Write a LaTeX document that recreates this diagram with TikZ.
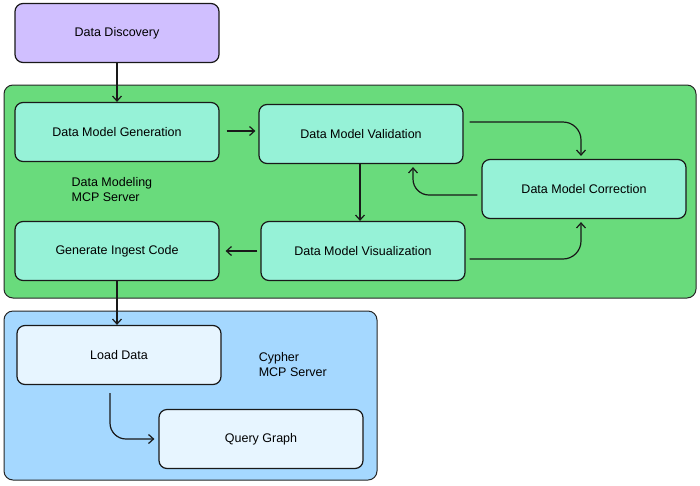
\documentclass[tikz,border=0pt]{standalone}
\usepackage{fontspec}
\setmainfont{Liberation Sans}
\usetikzlibrary{positioning,arrows.meta}
\definecolor{discfill}{HTML}{D0BFFF}
\definecolor{modelfill}{HTML}{69DB7C}
\definecolor{stepfill}{HTML}{96F2D7}
\definecolor{cypherfill}{HTML}{A5D8FF}
\definecolor{queryfill}{HTML}{E7F5FF}
\tikzset{
  area/.style={draw=black!85, line width=1pt, rounded corners=9pt, inner sep=0pt},
  stepbox/.style={draw=black!90, line width=1.2pt, rounded corners=8pt, fill=stepfill,
    minimum width=204pt, minimum height=59pt, inner sep=0pt, font=\fontsize{12.5}{15}\selectfont},
  note/.style={align=left, inner sep=0pt, font=\fontsize{12.5}{15}\selectfont},
  arr/.style={draw=black!90, line width=1.2pt, -{Straight Barb[length=5pt,width=9pt]}},
}

\begin{document}
\begin{tikzpicture}[x=1pt, y=-1pt]
  \useasboundingbox (0,0) rectangle (700,485);
  \node[area, fill=modelfill, minimum width=692pt, minimum height=213pt] (modeling) at (350,191.5) {};
  \node[area, fill=cypherfill, minimum width=373pt, minimum height=169pt] (cypher) at (190.5,395.5) {};
  \node[stepbox, fill=discfill] (disc) at (117,33) {Data Discovery};
  \node[stepbox] (gen) at (117,132) {Data Model Generation};
  \node[stepbox] (val) at (361,134) {Data Model Validation};
  \node[stepbox] (corr) at (584,189) {Data Model Correction};
  \node[stepbox] (ingest) at (117,251) {Generate Ingest Code};
  \node[stepbox] (vis) at (363,251) {Data Model Visualization};
  \node[stepbox, fill=queryfill] (load) at (119,355) {Load Data};
  \node[stepbox, fill=queryfill] (query) at (261,439) {Query Graph};
  \node[note, below right=15pt and 57pt of gen.south west] (modelnote) {Data Modeling\\MCP Server};
  \node[note, right=37pt of load.north east, yshift=-27pt, anchor=north west] (cyphernote) {Cypher\\MCP Server};

  \draw[arr] (disc.south) -- (disc.south |- gen.north);
  \draw[arr] ([xshift=7pt,yshift=1pt]gen.east) -- ([xshift=-3pt,yshift=1pt]gen.east -| val.west);
  \draw[arr, rounded corners=18pt] ([xshift=6pt,yshift=12pt]val.east) -| ([xshift=-3pt,yshift=3pt]corr.north);
  \draw[arr, rounded corners=16pt] ([xshift=-4pt,yshift=-6pt]corr.west) -| ([xshift=52pt,yshift=-3pt]val.south);
  \draw[arr] ([xshift=-1pt]val.south) -- ([xshift=-1pt]val.south |- vis.north);
  \draw[arr, rounded corners=18pt] ([xshift=4pt,yshift=-8pt]vis.east) -| ([xshift=-3pt,yshift=-3pt]corr.south);
  \draw[arr] ([xshift=-3pt]vis.west) -- ([xshift=6pt]ingest.east);
  \draw[arr] (ingest.south) -- (ingest.south |- load.north);
  \draw[arr, rounded corners=16pt] ([xshift=-9pt,yshift=-8pt]load.south) |- ([xshift=-4pt]query.west);
\end{tikzpicture}
\end{document}
